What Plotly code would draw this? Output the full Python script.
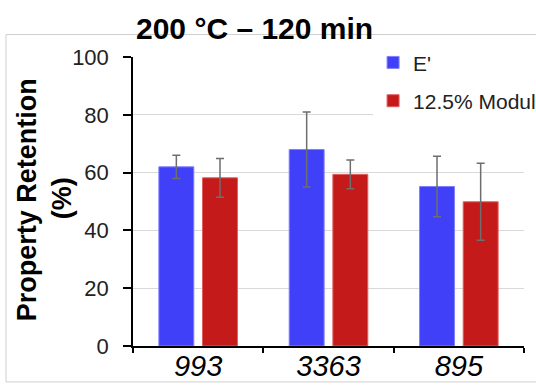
import plotly.graph_objects as go

categories = ["993", "3363", "895"]
e_prime = [62.0, 68.0, 55.2]
e_prime_err = [4.0, 13.0, 10.5]
modulus = [58.2, 59.4, 49.9]
modulus_err = [6.7, 5.0, 13.3]
series_names = ["E'", "12.5% Modulus"]
y_ticks = [0, 20, 40, 60, 80, 100]

FONT = "Liberation Sans, Arial, sans-serif"

fig = go.Figure()
fig.add_trace(go.Bar(
    x=categories, y=e_prime, name=series_names[0], legendgroup="a",
    marker=dict(color="#4040F8", line=dict(color="#8080FF", width=1)),
    error_y=dict(type="data", array=e_prime_err, color="#6E6E6E", thickness=1.5, width=4),
))
fig.add_trace(go.Bar(
    x=categories, y=modulus, name=series_names[1], legendgroup="b",
    marker=dict(color="#C41A1A", line=dict(color="#E06060", width=1)),
    error_y=dict(type="data", array=modulus_err, color="#6E6E6E", thickness=1.5, width=4),
))

fig.update_layout(
    width=536, height=385,
    margin=dict(l=133, r=12, t=57, b=39, autoexpand=False),
    paper_bgcolor="white", plot_bgcolor="white",
    barmode="group", bargap=0.33, bargroupgap=0.2,
    font=dict(family=FONT, color="#222"),
    showlegend=True,
    legend=dict(
        x=0.614, xanchor="left", y=1.051, yanchor="top",
        bgcolor="white", font=dict(size=21, color="#222", family=FONT),
        traceorder="grouped", tracegroupgap=8,
    ),
    xaxis=dict(
        showline=True, linecolor="black", linewidth=1.5,
        ticks="outside", tickson="boundaries", ticklen=5, tickcolor="black", tickwidth=1.5,
        tickfont=dict(size=29, color="black", style="italic", family=FONT),
        range=[-0.5, 2.5], automargin=False, ticklabelstandoff=-7,
    ),
    yaxis=dict(
        range=[0, 100], tickvals=y_ticks,
        showline=True, linecolor="black", linewidth=1.5,
        ticks="outside", ticklen=8, tickcolor="black", tickwidth=1.5,
        tickfont=dict(size=22, color="#222", family=FONT),
        showgrid=True, gridcolor="#D9D9D9", gridwidth=1,
        zeroline=False, ticklabelstandoff=10, automargin=False,
    ),
    shapes=[
        dict(type="rect", xref="paper", yref="paper",
             x0=(6 - 133) / 391, x1=(540 - 133) / 391,
             y0=(346 - 382) / 289.5, y1=(346 - 34) / 289.5,
             line=dict(color="#CFCFCF", width=1), fillcolor="rgba(0,0,0,0)", layer="below"),
    ],
    annotations=[
        dict(text="<b>200 °C – 120 min</b>", xref="paper", yref="paper",
             x=(254 - 133) / 391, y=(346 - 27.5) / 289.5, xanchor="center", yanchor="middle",
             showarrow=False, font=dict(size=30, color="black", family=FONT)),
        dict(text="<b>Property Retention</b>", xref="paper", yref="paper",
             x=(27 - 133) / 391, y=(346 - 200) / 289.5, xanchor="center", yanchor="middle",
             textangle=-90, showarrow=False, font=dict(size=27, color="black", family=FONT)),
        dict(text="<b>(%)</b>", xref="paper", yref="paper",
             x=(62 - 133) / 391, y=(346 - 198) / 289.5, xanchor="center", yanchor="middle",
             textangle=-90, showarrow=False, font=dict(size=27, color="black", family=FONT)),
    ],
)

fig.write_html("out.html")
